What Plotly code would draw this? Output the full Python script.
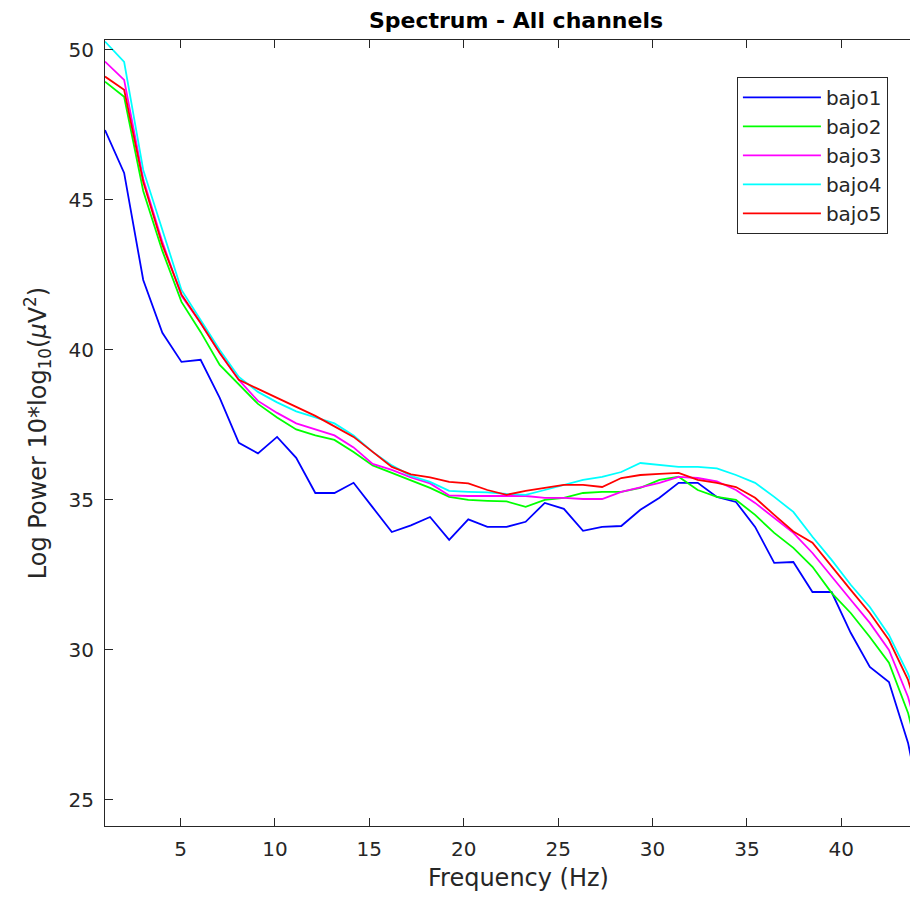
import plotly.graph_objects as go

# Frequencies (Hz) of the spectrum bins
freqs = [1.000, 2.013, 3.025, 4.038, 5.051, 6.064, 7.076, 8.089, 9.102, 10.114,
         11.127, 12.140, 13.152, 14.165, 15.178, 16.191, 17.203, 18.216, 19.229, 20.241,
         21.254, 22.267, 23.279, 24.292, 25.305, 26.318, 27.330, 28.343, 29.356, 30.368,
         31.381, 32.394, 33.406, 34.419, 35.432, 36.445, 37.457, 38.470, 39.483, 40.495,
         41.508, 42.521, 43.533, 44.546]

bajo1 = [47.33, 45.90, 42.33, 40.57, 39.60, 39.67, 38.40, 36.90, 36.55, 37.10,
         36.40, 35.23, 35.23, 35.57, 34.75, 33.93, 34.15, 34.43, 33.67, 34.35,
         34.10, 34.10, 34.27, 34.90, 34.70, 33.97, 34.10, 34.13, 34.67, 35.07,
         35.57, 35.57, 35.10, 34.93, 34.10, 32.90, 32.93, 31.93, 31.93, 30.57,
         29.43, 28.93, 26.90, 23.75]

bajo2 = [48.94, 48.44, 45.30, 43.30, 41.60, 40.60, 39.50, 38.85, 38.20, 37.75,
         37.35, 37.15, 37.00, 36.60, 36.15, 35.90, 35.65, 35.40, 35.10, 35.00,
         34.97, 34.95, 34.77, 35.00, 35.07, 35.23, 35.27, 35.27, 35.40, 35.67,
         35.77, 35.33, 35.10, 35.00, 34.50, 33.90, 33.40, 32.77, 31.90, 31.23,
         30.43, 29.57, 27.90, 25.30]

bajo3 = [49.61, 49.00, 45.70, 43.60, 41.80, 40.90, 39.90, 39.00, 38.30, 37.90,
         37.55, 37.35, 37.15, 36.75, 36.20, 36.00, 35.75, 35.55, 35.15, 35.13,
         35.13, 35.13, 35.13, 35.07, 35.07, 35.03, 35.03, 35.27, 35.43, 35.57,
         35.77, 35.73, 35.62, 35.33, 34.90, 34.40, 33.90, 33.23, 32.43, 31.67,
         30.90, 30.00, 28.43, 26.10]

bajo4 = [50.28, 49.60, 46.00, 44.00, 42.00, 41.00, 40.00, 39.10, 38.60, 38.25,
         37.95, 37.75, 37.55, 37.15, 36.60, 36.15, 35.80, 35.60, 35.30, 35.27,
         35.25, 35.20, 35.17, 35.33, 35.50, 35.67, 35.77, 35.93, 36.23, 36.17,
         36.10, 36.10, 36.05, 35.83, 35.57, 35.10, 34.60, 33.77, 33.00, 32.17,
         31.43, 30.50, 29.20, 27.50]

bajo5 = [49.11, 48.67, 45.60, 43.50, 41.85, 40.90, 39.90, 39.00, 38.70, 38.40,
         38.10, 37.80, 37.45, 37.10, 36.60, 36.10, 35.85, 35.75, 35.60, 35.55,
         35.33, 35.17, 35.30, 35.40, 35.50, 35.50, 35.43, 35.73, 35.83, 35.87,
         35.90, 35.67, 35.57, 35.43, 35.07, 34.50, 33.95, 33.57, 32.77, 32.00,
         31.23, 30.33, 29.00, 26.85]

series_names = ["bajo1", "bajo2", "bajo3", "bajo4", "bajo5"]
series_values = [bajo1, bajo2, bajo3, bajo4, bajo5]
series_colors = ["#0000ff", "#00ff00", "#ff00ff", "#00ffff", "#ff0000"]

x_ticks = [5, 10, 15, 20, 25, 30, 35, 40]
y_ticks = [25, 30, 35, 40, 45, 50]

FONT = "DejaVu Sans, Liberation Sans, Arial, sans-serif"
AX = "#262626"

fig = go.Figure()
for name, vals, col in zip(series_names, series_values, series_colors):
    fig.add_trace(go.Scatter(x=freqs, y=vals, mode="lines", name=name,
                             line=dict(color=col, width=1.8)))

axis_common = dict(showline=True, linecolor=AX, linewidth=1, mirror="allticks",
                   ticks="inside", ticklen=8, tickcolor=AX, tickwidth=1,
                   showgrid=False, zeroline=False,
                   tickfont=dict(family=FONT, size=20, color=AX))

fig.update_layout(
    width=910, height=889,
    paper_bgcolor="white", plot_bgcolor="white",
    margin=dict(l=97, r=0, t=32, b=71),
    title=dict(text="<b>Spectrum - All channels</b>", xref="paper", x=0.5055,
               xanchor="center", yref="container", y=1 - 12 / 889, yanchor="middle",
               font=dict(family=FONT, size=22, color="#000000")),
    xaxis=dict(range=[1, 44.06], tickvals=x_ticks,
               ticklabelstandoff=5, **axis_common),
    yaxis=dict(range=[24.13, 50.33], tickvals=y_ticks,
               title=dict(text="Log Power 10*log<sub>10</sub>(<i>μ</i>V<sup>2</sup>)", standoff=15,
                          font=dict(family=FONT, size=24, color=AX)),
               ticklabelstandoff=6, **axis_common),
    legend=dict(x=0.963, y=0.953, xanchor="right", yanchor="top",
                bgcolor="white", bordercolor=AX, borderwidth=1,
                font=dict(family=FONT, size=20, color=AX),
                itemwidth=78, tracegroupgap=0),
    showlegend=True,
    annotations=[dict(text="Frequency (Hz)", xref="paper", yref="paper",
                      x=0.509, y=-52 / 786, xanchor="center", yanchor="middle",
                      showarrow=False, font=dict(family=FONT, size=24, color=AX))],
)

fig.write_html("out.html")
